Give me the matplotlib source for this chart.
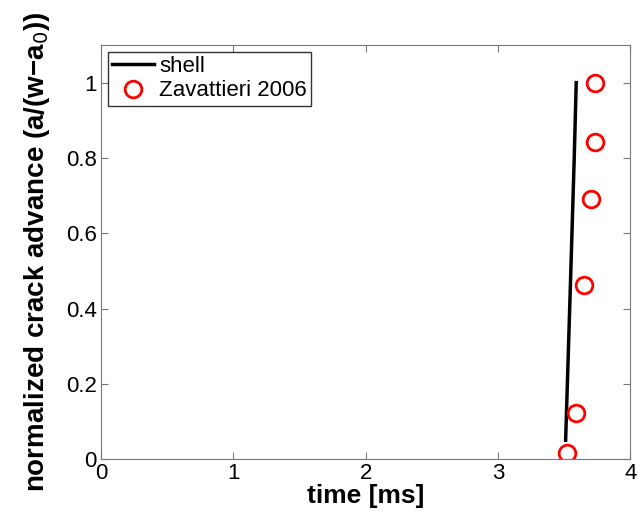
import matplotlib
matplotlib.use("Agg")
import matplotlib.pyplot as plt

plt.rcParams['font.family'] = ['Liberation Sans', 'DejaVu Sans']

# shell simulation
shell_t = [3.51, 3.545, 3.575, 3.59]
shell_a = [0.05, 0.45, 0.80, 1.0]

# Zavattieri 2006 experiment
exp_t = [3.52, 3.59, 3.65, 3.70, 3.73, 3.73]
exp_a = [0.016, 0.122, 0.463, 0.691, 0.843, 1.0]

xticks = [0, 1, 2, 3, 4]
yticks = [0, 0.2, 0.4, 0.6, 0.8, 1]
yticklabels = ['0', '0.2', '0.4', '0.6', '0.8', '1']

fig = plt.figure(figsize=(6.44, 5.17), dpi=100)
ax = fig.add_axes([0.157, 0.112, 0.822, 0.801])

ax.plot(shell_t, shell_a, color='black', linewidth=2.5, label='shell')
ax.plot(exp_t, exp_a, linestyle='none', marker='o', markersize=12,
        markerfacecolor='none', markeredgecolor='red', markeredgewidth=2,
        label='Zavattieri 2006')

ax.set_xlim(0, 4)
ax.set_ylim(0, 1.1)
ax.set_xticks(xticks)
ax.set_yticks(yticks)
ax.set_yticklabels(yticklabels)
ax.tick_params(direction='in', top=True, right=True, labelsize=16, length=5,
               color='#777777', pad=3)
for s in ax.spines.values():
    s.set_color('#777777')

ax.set_xlabel('time [ms]', fontsize=19, fontweight='bold', labelpad=0)
ax.set_ylabel('normalized crack advance (a/(w\u2212a$_0$))', fontsize=20,
              fontweight='bold', labelpad=10)

leg = ax.legend(loc='upper left', fontsize=16, fancybox=False, framealpha=1,
                borderaxespad=0.3, handlelength=1.9, handletextpad=0.2,
                borderpad=0.2, labelspacing=0.15)
leg.get_frame().set_edgecolor('#333333')
leg.get_frame().set_linewidth(1)

fig.savefig('out.png', dpi=100)
